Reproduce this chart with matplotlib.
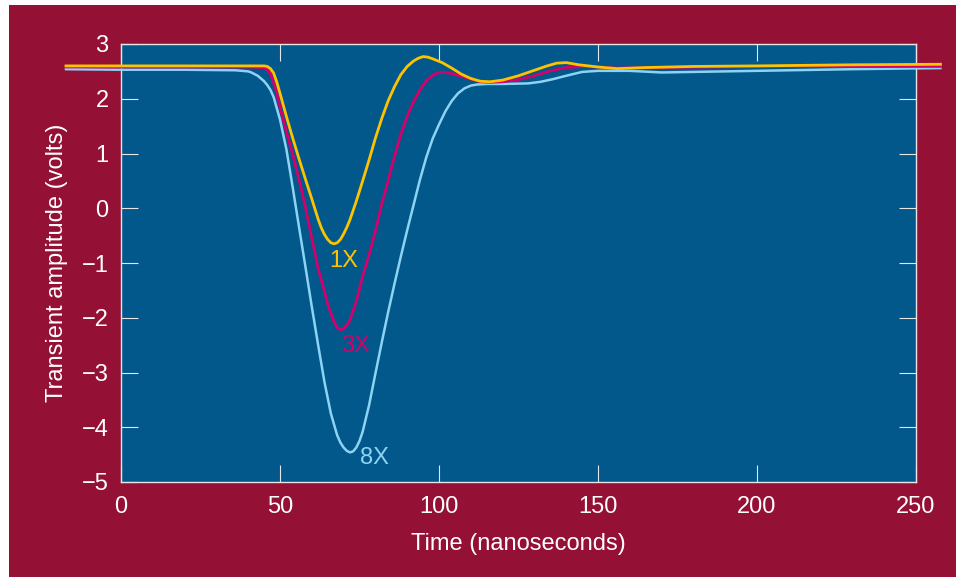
import matplotlib
matplotlib.use("Agg")
import matplotlib.pyplot as plt
from matplotlib.patches import Rectangle

plt.rcParams['font.family'] = ['Liberation Sans', 'DejaVu Sans']

# transient curves (time in ns, amplitude in volts)
t_1x = [-17.3, 0, 20, 40, 44, 45, 46, 47, 48, 49, 50, 52, 54, 56, 58, 60, 62, 63, 64, 65,
        66, 67, 68, 69, 70, 71, 72, 74, 76, 78, 80, 82, 84, 86, 88, 90, 92, 93.5, 95, 96.5,
        98, 101, 104, 107, 110, 113, 116, 120, 125, 130, 134, 137, 140, 144, 150, 156, 165,
        180, 200, 230, 257.7]
v_1x = [2.60, 2.60, 2.60, 2.60, 2.60, 2.60, 2.59, 2.55, 2.47, 2.30, 2.10, 1.68, 1.28, 0.90,
        0.53, 0.17, -0.20, -0.36, -0.48, -0.57, -0.63, -0.65, -0.63, -0.57, -0.47, -0.35,
        -0.21, 0.13, 0.50, 0.88, 1.28, 1.64, 1.96, 2.22, 2.44, 2.59, 2.69, 2.74, 2.77, 2.76,
        2.73, 2.66, 2.56, 2.45, 2.37, 2.32, 2.31, 2.34, 2.42, 2.52, 2.60, 2.65, 2.66, 2.62,
        2.58, 2.55, 2.57, 2.59, 2.60, 2.62, 2.63]

t_3x = [-17.3, 0, 20, 40, 44, 45, 46, 47, 48, 49, 50, 52, 54, 56, 58, 60, 62, 64, 65, 66,
        67, 68, 69, 70, 71, 72, 74, 76, 78, 80, 82, 84, 86, 88, 90, 92, 94, 96, 98, 100, 102,
        104, 107, 110, 113, 116, 120, 125, 130, 135, 140, 145, 150, 156, 170, 200, 230, 257.7]
v_3x = [2.58, 2.58, 2.58, 2.58, 2.57, 2.56, 2.53, 2.45, 2.30, 2.10, 1.85, 1.40, 0.98, 0.52,
        0.02, -0.55, -1.10, -1.52, -1.75, -1.92, -2.07, -2.18, -2.22, -2.20, -2.14, -2.04,
        -1.70, -1.24, -0.85, -0.42, 0.08, 0.50, 0.95, 1.35, 1.68, 1.95, 2.16, 2.33, 2.43,
        2.48, 2.48, 2.46, 2.41, 2.36, 2.31, 2.30, 2.31, 2.35, 2.42, 2.51, 2.57, 2.59, 2.58,
        2.56, 2.57, 2.59, 2.59, 2.59]

t_8x = [-17.3, 0, 20, 36, 38, 40, 41, 42, 43, 44, 45, 46, 47, 48, 50, 52, 54, 56, 58, 60, 62,
        64, 66, 68, 69, 70, 71, 72, 73, 74, 75, 76, 78, 80, 82, 84, 86, 88, 90, 92, 94, 96,
        98, 100, 102, 104, 106, 108, 110, 112, 115, 120, 128, 132, 136, 140, 145, 150, 160,
        170, 180, 200, 230, 257.7]
v_8x = [2.54, 2.53, 2.53, 2.52, 2.51, 2.50, 2.48, 2.45, 2.42, 2.37, 2.32, 2.25, 2.16, 2.03,
        1.62, 1.08, 0.38, -0.35, -1.07, -1.80, -2.50, -3.18, -3.75, -4.15, -4.28, -4.37,
        -4.43, -4.46, -4.44, -4.37, -4.25, -4.08, -3.60, -3.02, -2.45, -1.90, -1.38, -0.88,
        -0.40, 0.06, 0.52, 0.93, 1.27, 1.53, 1.77, 1.96, 2.10, 2.19, 2.24, 2.26, 2.27, 2.27,
        2.28, 2.31, 2.36, 2.42, 2.49, 2.51, 2.51, 2.48, 2.49, 2.51, 2.54, 2.56]

labels = ['1X', '3X', '8X']
label_pos = [(70.1, -0.96), (73.9, -2.52), (79.8, -4.56)]

bg_red = '#941035'
ax_blue = '#02588a'
yellow = '#fdc300'
magenta = '#d4006c'
sky = '#8dd3f3'

fig = plt.figure(figsize=(9.56, 5.77), dpi=100, facecolor='white')
fig.patches.append(Rectangle((9 / 956, 0), 1, 572 / 577, transform=fig.transFigure,
                             facecolor=bg_red, edgecolor='none', zorder=-10))

ax = fig.add_axes([121 / 956, 95 / 577, 795 / 956, 438 / 577])
ax.set_facecolor(ax_blue)

ax.plot(t_8x, v_8x, color=sky, lw=1.8, clip_on=False, zorder=3, solid_joinstyle='round')
ax.plot(t_3x, v_3x, color=magenta, lw=2.0, clip_on=False, zorder=4, solid_joinstyle='round')
ax.plot(t_1x, v_1x, color=yellow, lw=2.0, clip_on=False, zorder=5, solid_joinstyle='round')

for lab, (x, y), c in zip(labels, label_pos, [yellow, magenta, sky]):
    ax.text(x, y, lab, color=c, fontsize=17, ha='center', va='center')

ax.set_xlim(0, 250)
ax.set_ylim(-5, 3)
ax.set_xticks([0, 50, 100, 150, 200, 250])
ax.set_yticks(range(-5, 4))

for s in ax.spines.values():
    s.set_color('#e6e6e6')
    s.set_linewidth(1.0)

ax.tick_params(direction='in', length=12.5, width=0.8, color='#e6e6e6',
               top=True, right=True, labelsize=17, labelcolor='white')
ax.tick_params(axis='x', pad=10)
ax.tick_params(axis='y', pad=9)

ax.set_xlabel('Time (nanoseconds)', color='white', fontsize=17, labelpad=11)
ax.set_ylabel('Transient amplitude (volts)', color='white', fontsize=17, labelpad=10)

fig.savefig('out.png', dpi=100, facecolor=fig.get_facecolor())
